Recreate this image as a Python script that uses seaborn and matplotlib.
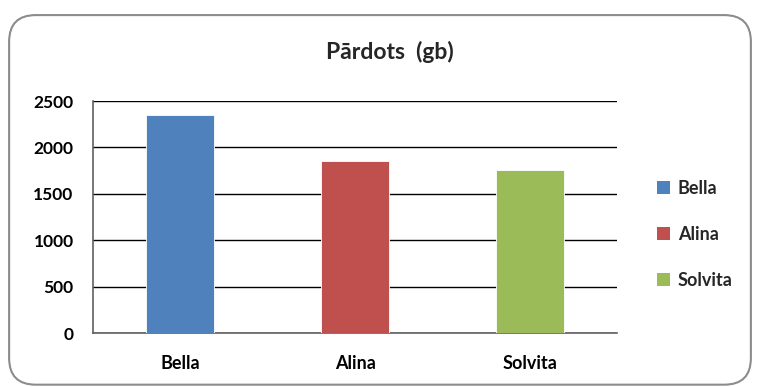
import matplotlib
matplotlib.use("Agg")
import matplotlib.pyplot as plt
from matplotlib.patches import FancyBboxPatch, Patch
import seaborn as sns
import pandas as pd

# Sales per seller
sellers = ["Bella", "Alina", "Solvita"]
sold = [2345, 1850, 1755]
colors = ["#4F81BD", "#C0504D", "#9BBB59"]
y_ticks = [0, 500, 1000, 1500, 2000, 2500]
title = "Pārdots  (gb)"

sns.set_theme(style="white")
plt.rcParams["font.family"] = ["Lato", "DejaVu Sans"]

df = pd.DataFrame({"seller": sellers, "sold": sold})

fig = plt.figure(figsize=(7.6, 3.87), dpi=100)

# rounded chart frame, kept behind the axes
frame = FancyBboxPatch((0.012, 0.006), 0.976, 0.955,
                       boxstyle="round,pad=0,rounding_size=0.035",
                       transform=fig.transFigure, facecolor="white",
                       edgecolor="#8c8c8c", linewidth=1.5,
                       mutation_aspect=760 / 387, zorder=-10)
fig.patches.append(frame)

ax = fig.add_axes([0.1224, 0.1395, 0.6895, 0.5995])
ax.set_facecolor("none")
sns.barplot(data=df, x="seller", y="sold", hue="seller", palette=colors,
            width=0.39, legend=False, ax=ax, saturation=1, zorder=3,
            edgecolor="white", linewidth=0.6)

ax.set_ylim(0, 2500)
ax.set_yticks(y_ticks)
ax.set_yticklabels([str(v) for v in y_ticks], fontweight="bold", fontsize=12.5)
ax.set_xticks(range(len(sellers)))
ax.set_xticklabels(sellers, fontweight="bold", fontsize=13)
ax.set_xlabel("")
ax.set_ylabel("")
ax.tick_params(axis="y", length=0, pad=14, colors="black")
ax.tick_params(axis="x", length=0, pad=16, colors="black")

ax.yaxis.grid(True, color="black", linewidth=1.0)
ax.set_axisbelow(True)
for side in ["top", "right"]:
    ax.spines[side].set_visible(False)
for side in ["left", "bottom"]:
    ax.spines[side].set_color("#606060")
    ax.spines[side].set_linewidth(1.2)

fig.text(0.513, 0.866, title, ha="center", va="center",
         fontsize=16.5, fontweight="bold")

handles = [Patch(facecolor=c, edgecolor="none", label=s)
           for s, c in zip(sellers, colors)]
fig.legend(handles=handles, loc="center left", bbox_to_anchor=(0.843, 0.395),
           frameon=False, handlelength=0.75, handleheight=0.75,
           handletextpad=0.4, labelspacing=1.6,
           prop={"weight": "bold", "size": 13})

fig.savefig("out.png", dpi=100)
